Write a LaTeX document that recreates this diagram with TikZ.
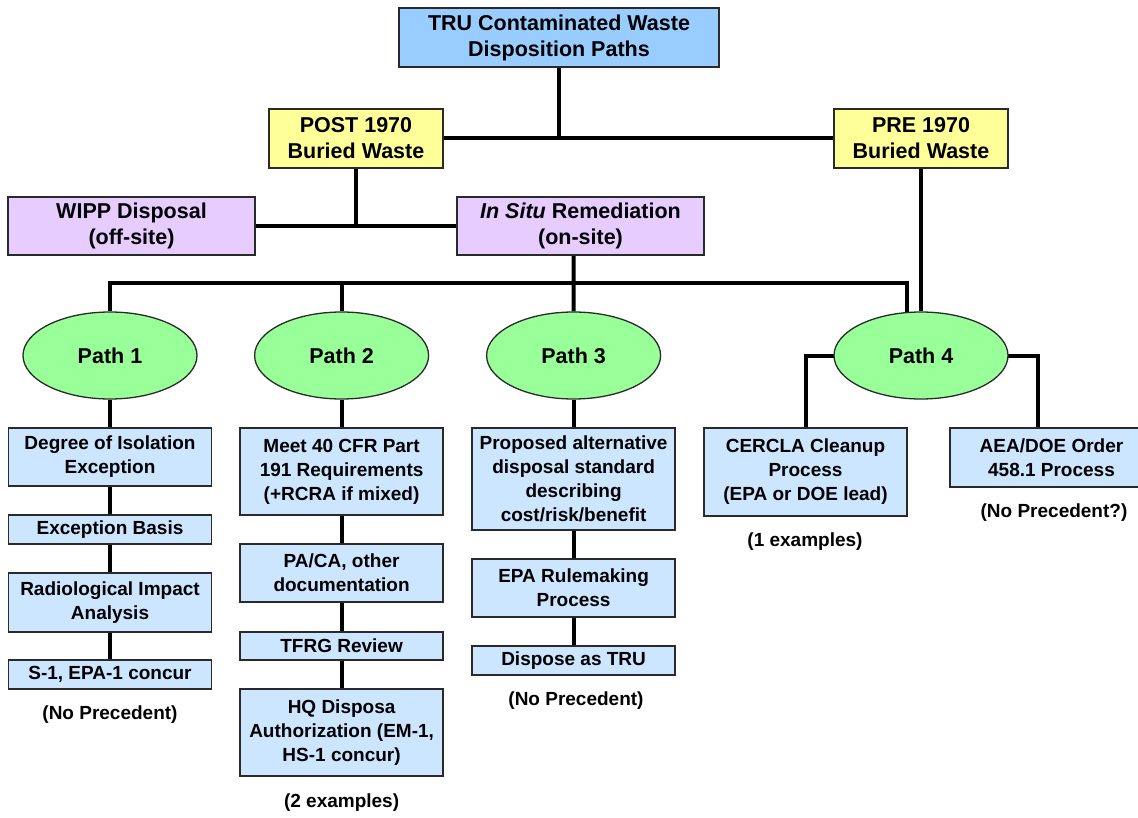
\documentclass[tikz,border=0pt]{standalone}
\usepackage{fontspec}
\setmainfont{Liberation Sans}
\usetikzlibrary{shapes.geometric,backgrounds}
\definecolor{topblue}{HTML}{99CCFF}
\definecolor{yell}{HTML}{FFFF99}
\definecolor{lav}{HTML}{E6CCFF}
\definecolor{grn}{HTML}{99FF99}
\definecolor{proc}{HTML}{CCE6FF}
\definecolor{edge}{HTML}{2A2A2A}
\tikzset{
  base/.style={draw=edge, line width=1.3pt, align=center, inner sep=0pt},
  bigbox/.style={base, rectangle, font=\fontsize{21.5}{26}\selectfont\bfseries},
  pathell/.style={base, ellipse, fill=grn, minimum width=174pt, minimum height=87pt, font=\fontsize{21.5}{26}\selectfont\bfseries},
  procbox/.style={base, rectangle, fill=proc, minimum width=203pt, font=\fontsize{19}{24}\selectfont\bfseries},
  note/.style={align=center, inner sep=0pt, font=\fontsize{19}{24}\selectfont\bfseries},
  conn/.style={line width=4pt, black}
}
\begin{document}
\begin{tikzpicture}[x=1pt,y=-1pt]
\clip (0,0) rectangle (1138,818);
% top levels
\node[bigbox, fill=topblue, minimum width=320pt, minimum height=59pt] (top) at (559,37.5) {TRU Contaminated Waste\\Disposition Paths};
\node[bigbox, fill=yell, minimum width=174pt, minimum height=59pt] (post) at (356,138.5) {POST 1970\\Buried Waste};
\node[bigbox, fill=yell, minimum width=174pt, minimum height=59pt] (pre) at (921,138.5) {PRE 1970\\Buried Waste};
\node[bigbox, fill=lav, minimum width=247pt, minimum height=58pt] (wipp) at (131.5,226) {WIPP Disposal\\(off-site)};
\node[bigbox, fill=lav, minimum width=247pt, minimum height=58pt] (insitu) at (580.5,226) {\textit{In Situ} Remediation\\(on-site)};
% paths
\node[pathell] (p1) at (110,355.5) {Path 1};
\node[pathell] (p2) at (341.6,355.5) {Path 2};
\node[pathell] (p3) at (573.6,355.5) {Path 3};
\node[pathell] (p4) at (921,355.5) {Path 4};
% column 1
\node[procbox, minimum height=58pt] (b11) at (110,457) {Degree of Isolation\\Exception};
\node[procbox, minimum height=29pt] (b12) at (110,529.5) {Exception Basis};
\node[procbox, minimum height=59pt] (b13) at (110,602.5) {Radiological Impact\\Analysis};
\node[procbox, minimum height=29pt] (b14) at (110,674.5) {S-1, EPA-1 concur};
\node[note] (n1) at (110,715) {(No Precedent)};
% column 2
\node[procbox, minimum height=87pt] (b21) at (341.6,471.5) {Meet 40 CFR Part\\191 Requirements\\(+RCRA if mixed)};
\node[procbox, minimum height=58pt] (b22) at (341.6,573) {PA/CA, other\\documentation};
\node[procbox, minimum height=28pt] (b23) at (341.6,646) {TFRG Review};
\node[procbox, minimum height=87pt] (b24) at (341.6,732.5) {HQ Disposa\\Authorization (EM-1,\\HS-1 concur)};
\node[note] (n2) at (341.6,803) {(2 examples)};
% column 3
\node[procbox, minimum height=102pt] (b31) at (573.6,479) {Proposed alternative\\disposal standard\\describing\\cost/risk/benefit};
\node[procbox, minimum height=58pt] (b32) at (573.6,588) {EPA Rulemaking\\Process};
\node[procbox, minimum height=29pt] (b33) at (573.6,660.5) {Dispose as TRU};
\node[note] (n3) at (576,701) {(No Precedent)};
% column 4
\node[procbox, minimum height=88pt] (cercla) at (805.5,472) {CERCLA Cleanup\\Process\\(EPA or DOE lead)};
\node[note] (n4) at (805,542) {(1 examples)};
\node[procbox, minimum height=59pt] (aea) at (1051.5,457.5) {AEA/DOE Order\\458.1 Process};
\node[note] (n5) at (1054,513) {(No Precedent?)};
% connectors
\coordinate (busL) at (110,283);
\coordinate (busR) at (907,283);
\begin{scope}[on background layer]
\draw[conn] (top.south) -- (top.south |- post.east);
\draw[conn] (post.east) -- (pre.west);
\draw[conn] (post.south) -- (post.south |- wipp.east);
\draw[conn] (wipp.east) -- (insitu.west);
\draw[conn] ([xshift=-7pt]insitu.south) -- (p3.north);
\draw[conn] (p1.north) -- (busL) -- (busR) -- (busR |- p4.center);
\draw[conn] (p2.north) -- (p2.north |- busL);
\draw[conn] (pre.south) -- (p4.north);
\draw[conn] (p4.center) -| (cercla.north);
\draw[conn] (p4.center) -| ([xshift=-14pt]aea.north);
\draw[conn] (p1.south) -- (b11.north);
\draw[conn] (b11.south) -- (b12.north);
\draw[conn] (b12.south) -- (b13.north);
\draw[conn] (b13.south) -- (b14.north);
\draw[conn] (p2.south) -- (b21.north);
\draw[conn] (b21.south) -- (b22.north);
\draw[conn] (b22.south) -- (b23.north);
\draw[conn] (b23.south) -- (b24.north);
\draw[conn] (p3.south) -- (b31.north);
\draw[conn] (b31.south) -- (b32.north);
\draw[conn] (b32.south) -- (b33.north);
\end{scope}
\end{tikzpicture}
\end{document}
